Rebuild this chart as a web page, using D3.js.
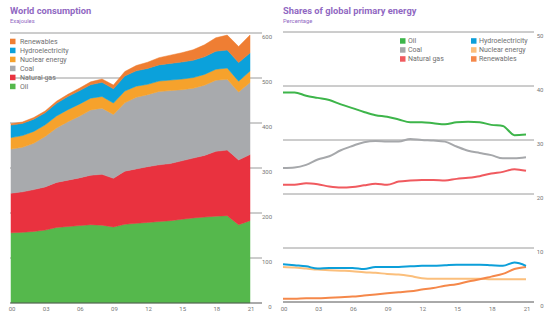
<!DOCTYPE html>
<html>
<head>
<meta charset="utf-8">
<script src="https://cdn.jsdelivr.net/npm/d3@7"></script>
<style>
  body { margin: 0; background: #fff; }
  svg { display: block; font-family: Roboto, "Liberation Sans", sans-serif; }
</style>
</head>
<body>
<svg id="chart" width="556" height="323"></svg>
<script>
// years 2000..2021
const years = d3.range(2000, 2022);
const tickYears = [2000, 2003, 2006, 2009, 2012, 2015, 2018, 2021];

// world consumption, exajoules
const oilEJ   = [156, 157, 159, 162, 168, 170, 172, 174, 173, 169, 175, 177, 179, 181, 183, 186, 189, 191, 193, 194, 174, 183];
const gasEJ   = [88, 90, 93, 96, 100, 103, 106, 110, 113, 108, 118, 121, 124, 126, 127, 130, 133, 137, 144, 146, 144, 147];
const coalEJ  = [98, 99, 103, 112, 121, 130, 137, 145, 147, 142, 152, 159, 160, 163, 162, 158, 155, 156, 158, 157, 151, 160];
const nuclearEJ = [25.6, 26.0, 26.3, 25.9, 26.6, 26.7, 26.9, 26.2, 25.9, 25.3, 26.0, 24.9, 22.9, 23.1, 23.4, 23.6, 23.9, 24.0, 24.4, 25.1, 23.9, 25.3];
const hydroEJ = [27.7, 27.0, 27.2, 26.8, 28.2, 29.0, 29.6, 29.8, 31.5, 31.6, 33.4, 34.0, 35.3, 36.0, 37.0, 37.8, 38.4, 39.0, 40.0, 40.2, 41.3, 40.3];
const renewEJ = [3.0, 3.2, 3.6, 4.0, 4.5, 5.0, 5.6, 6.4, 7.4, 8.4, 10.0, 11.8, 13.8, 16.0, 18.3, 20.7, 23.4, 26.7, 30.0, 33.0, 35.7, 39.9];

// shares of global primary energy, percent
const oilShare   = [38.8, 38.8, 38.2, 37.8, 37.4, 36.6, 35.9, 35.2, 34.6, 34.3, 33.8, 33.3, 33.3, 33.1, 32.9, 33.3, 33.4, 33.3, 32.8, 32.6, 30.9, 31.0];
const coalShare  = [24.8, 24.9, 25.4, 26.4, 27.0, 28.1, 28.9, 29.6, 29.8, 29.7, 29.7, 30.2, 30.0, 29.9, 29.7, 28.8, 28.0, 27.6, 27.2, 26.6, 26.6, 26.8];
const gasShare   = [21.7, 21.7, 22.0, 21.8, 21.4, 21.2, 21.3, 21.6, 21.9, 21.7, 22.3, 22.5, 22.6, 22.6, 22.5, 22.8, 23.0, 23.3, 23.8, 24.1, 24.6, 24.3];
const hydroShare = [7.0, 6.8, 6.6, 6.2, 6.3, 6.3, 6.3, 6.1, 6.5, 6.5, 6.5, 6.6, 6.7, 6.7, 6.8, 6.9, 6.9, 6.9, 6.8, 6.7, 7.3, 6.7];
const nuclearShare = [6.5, 6.4, 6.2, 6.0, 5.9, 5.8, 5.7, 5.5, 5.4, 5.2, 5.1, 4.8, 4.4, 4.3, 4.3, 4.3, 4.3, 4.3, 4.2, 4.2, 4.2, 4.2];
const renewShare = [0.6, 0.6, 0.7, 0.7, 0.8, 0.9, 1.0, 1.2, 1.4, 1.6, 1.8, 2.0, 2.3, 2.6, 3.0, 3.3, 3.8, 4.2, 4.7, 5.2, 6.1, 6.5];

const consTicks = [0, 100, 200, 300, 400, 500, 600];
const shareTicks = [0, 10, 20, 30, 40, 50];

const svg = d3.select("#chart");
const purple = "#9068c2";
const fmtYear = d => String(d % 100).padStart(2, "0");

// ---------- left: stacked areas ----------
const areaKeys = ["Oil", "Natural gas", "Coal", "Nuclear energy", "Hydroelectricity", "Renewables"];
const areaColor = {
  "Oil": "#55b84c", "Natural gas": "#e9323f", "Coal": "#a8aaad",
  "Nuclear energy": "#f6a22c", "Hydroelectricity": "#0ba1db", "Renewables": "#ef7e33"
};
const consRows = years.map((y, i) => ({
  year: y, "Oil": oilEJ[i], "Natural gas": gasEJ[i], "Coal": coalEJ[i],
  "Nuclear energy": nuclearEJ[i], "Hydroelectricity": hydroEJ[i], "Renewables": renewEJ[i]
}));

const x1 = d3.scaleLinear().domain([2000, 2021]).range([11, 250]);
const y1 = d3.scaleLinear().domain([0, 600]).range([303, 33]);

svg.append("text").attr("x", 10).attr("y", 14).attr("fill", purple)
  .attr("font-size", 9.3).attr("font-weight", "bold").text("World consumption");
svg.append("text").attr("x", 10).attr("y", 22.5).attr("fill", purple)
  .attr("font-size", 5.8).text("Exajoules");

const left = svg.append("g");
left.append("g").selectAll("line").data(consTicks.slice(1)).join("line")
  .attr("x1", 10).attr("x2", 262)
  .attr("y1", d => y1(d)).attr("y2", d => y1(d))
  .attr("stroke", "#9a9a9a").attr("stroke-width", 1);

const stack = d3.stack().keys(areaKeys)(consRows);
const area = d3.area()
  .x(d => x1(d.data.year))
  .y0(d => y1(d[0]))
  .y1(d => y1(d[1]));
left.append("g").selectAll("path").data(stack).join("path")
  .attr("d", area)
  .attr("fill", d => areaColor[d.key])
  .attr("stroke", d => areaColor[d.key]).attr("stroke-width", 0.5);

left.append("line").attr("x1", 10).attr("x2", 262)
  .attr("y1", y1(0)).attr("y2", y1(0)).attr("stroke", "#555").attr("stroke-width", 1);

left.append("g").attr("font-size", 6).attr("fill", "#777")
  .selectAll("text").data(consTicks).join("text")
  .attr("x", d => d === 0 ? 270 : 267).attr("y", d => y1(d) + 5.5)
  .attr("text-anchor", "middle").text(d => d);

left.append("g").attr("font-size", 6).attr("fill", "#777")
  .selectAll("text").data(tickYears).join("text")
  .attr("x", d => x1(d) + 1).attr("y", 311)
  .attr("text-anchor", "middle").text(fmtYear);

const leg1 = left.append("g").attr("font-size", 7).attr("fill", "#707070")
  .selectAll("g").data(areaKeys.slice().reverse()).join("g")
  .attr("transform", (d, i) => "translate(10," + (41.5 + i * 9) + ")");
leg1.append("rect").attr("x", 0).attr("y", -2.8).attr("width", 5.5).attr("height", 5.5)
  .attr("fill", d => areaColor[d]);
leg1.append("text").attr("x", 10).attr("y", 2.4).text(d => d);

// ---------- right: share lines ----------
const lineColor = {
  "Oil": "#3db54a", "Coal": "#a6a8ab", "Natural gas": "#f05a5f",
  "Hydroelectricity": "#0c9fd9", "Nuclear energy": "#fbbf7c", "Renewables": "#f5884a"
};
const shareSeries = [
  { key: "Nuclear energy", values: nuclearShare },
  { key: "Renewables", values: renewShare },
  { key: "Hydroelectricity", values: hydroShare },
  { key: "Natural gas", values: gasShare },
  { key: "Coal", values: coalShare },
  { key: "Oil", values: oilShare }
];

const x2 = d3.scaleLinear().domain([2000, 2021]).range([283, 526]);
const y2 = d3.scaleLinear().domain([0, 50]).range([302, 32]);

svg.append("text").attr("x", 283).attr("y", 14).attr("fill", purple)
  .attr("font-size", 9.3).attr("font-weight", "bold").text("Shares of global primary energy");
svg.append("text").attr("x", 283).attr("y", 22.5).attr("fill", purple)
  .attr("font-size", 5.8).text("Percentage");

const right = svg.append("g");
right.append("g").selectAll("line").data(shareTicks.slice(1)).join("line")
  .attr("x1", 283).attr("x2", 534)
  .attr("y1", d => y2(d)).attr("y2", d => y2(d))
  .attr("stroke", "#9a9a9a").attr("stroke-width", 1);
right.append("line").attr("x1", 283).attr("x2", 534)
  .attr("y1", y2(0)).attr("y2", y2(0)).attr("stroke", "#555").attr("stroke-width", 1);

const line = d3.line()
  .x((d, i) => x2(years[i]))
  .y(d => y2(d))
  .curve(d3.curveMonotoneX);
right.append("g").selectAll("path").data(shareSeries).join("path")
  .attr("d", d => line(d.values))
  .attr("fill", "none")
  .attr("stroke", d => lineColor[d.key])
  .attr("stroke-width", 2)
  .attr("stroke-linejoin", "round");

right.append("g").attr("font-size", 6).attr("fill", "#777")
  .selectAll("text").data(shareTicks).join("text")
  .attr("x", d => d === 0 ? 542 : 540).attr("y", d => y2(d) + 5.5)
  .attr("text-anchor", "middle").text(d => d);

right.append("g").attr("font-size", 6).attr("fill", "#777")
  .selectAll("text").data(tickYears).join("text")
  .attr("x", d => x2(d) + 1).attr("y", 311)
  .attr("text-anchor", "middle").text(fmtYear);

const legKeys = ["Oil", "Coal", "Natural gas", "Hydroelectricity", "Nuclear energy", "Renewables"];
const leg2 = right.append("g").attr("font-size", 7).attr("fill", "#707070")
  .selectAll("g").data(legKeys).join("g")
  .attr("transform", (d, i) => "translate(" + (i < 3 ? 400 : 471) + "," + (41 + (i % 3) * 9) + ")");
leg2.append("rect").attr("x", 0).attr("y", -2.8).attr("width", 5.5).attr("height", 5.5)
  .attr("fill", d => lineColor[d]);
leg2.append("text").attr("x", 8).attr("y", 2.4).text(d => d);
</script>
</body>
</html>
